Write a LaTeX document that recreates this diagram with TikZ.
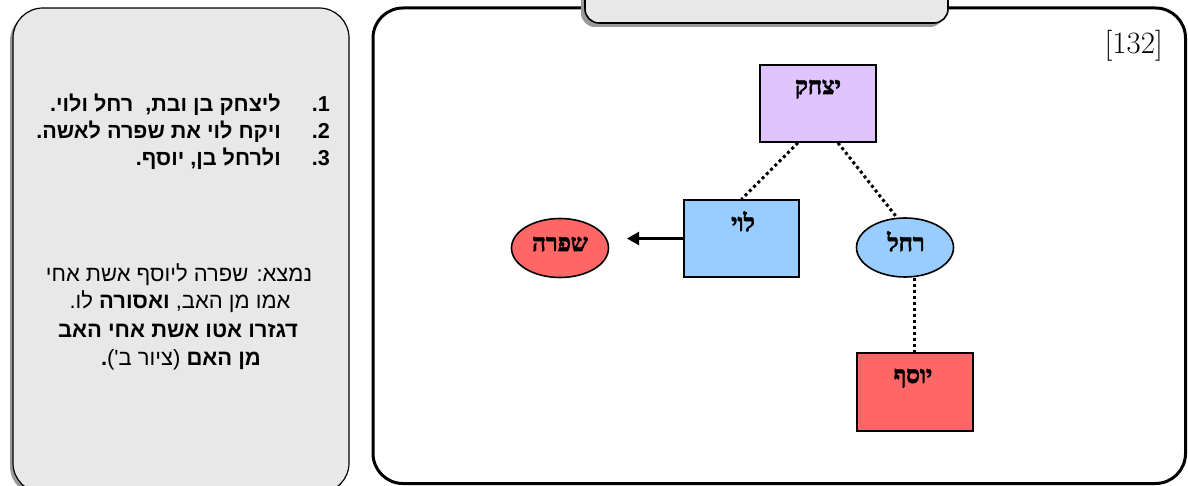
\documentclass[tikz,border=0pt]{standalone}
\usepackage{fontspec}
\usetikzlibrary{shapes.geometric,arrows.meta}
\TeXXeTstate=1
\setmainfont{Liberation Sans}
\newfontfamily\hebsans[Script=Hebrew]{Liberation Sans}
\newfontfamily\hebserif[Script=Hebrew,FakeBold=2.5]{Liberation Serif Bold}
\newfontfamily\lmr{Latin Modern Roman}
\definecolor{panelgray}{HTML}{E8E8E8}
\definecolor{shadowgray}{HTML}{999999}
\definecolor{lav}{HTML}{E0C4FF}
\definecolor{lblue}{HTML}{99CCFF}
\definecolor{lred}{HTML}{FF6666}
\tikzset{
  person/.style={draw=black, line width=1.6pt, rectangle, inner sep=0pt},
  oval/.style={draw=black, line width=1.6pt, ellipse, inner sep=0pt},
  namelbl/.style={anchor=base, inner sep=0pt, font=\hebserif\fontsize{24}{28}\selectfont},
  kin/.style={line width=3pt, dash pattern=on 3pt off 3pt},
  listtxt/.style={anchor=base east, inner sep=0pt, font=\hebsans\bfseries\fontsize{21.6}{26}\selectfont},
  paratxt/.style={anchor=base, inner sep=0pt, font=\hebsans\fontsize{22}{26}\selectfont},
}
\begin{document}
\begin{tikzpicture}[x=1pt,y=-1pt]
\useasboundingbox (0,0) rectangle (1188,486);
\clip (0,0) rectangle (1188,486);
% left panel
\fill[shadowgray, rounded corners=30pt] (10,11) rectangle (346,496);
\draw[fill=panelgray, line width=1.2pt, rounded corners=30pt] (13,8) rectangle (349,493);
% right panel
\draw[fill=white, line width=3pt, rounded corners=30pt] (373,8) rectangle (1185.5,483.5);
% title box
\fill[shadowgray, rounded corners=14pt] (581,-30) rectangle (944,27);
\draw[fill=panelgray, line width=1.6pt, rounded corners=14pt] (585,-30) rectangle (948,23);
% list
\node[listtxt] (n1) at (330,112) {1.};
\node[listtxt] (n2) at (330,139) {2.};
\node[listtxt] (n3) at (330,166) {3.};
\node[listtxt] (l1) at (281,112) {\beginR ליצחק בן ובת,\ \ רחל ולוי.\endR};
\node[listtxt] (l2) at (281,139) {\beginR ויקח לוי את שפרה לאשה.\endR};
\node[listtxt] (l3) at (281,166) {\beginR ולרחל בן, יוסף.\endR};
% paragraph
\node[paratxt] (p1) at (179,281) {\beginR נמצא: שפרה ליוסף אשת אחי\endR};
\node[paratxt] (p2) at (180,308) {\beginR אמו מן האב, \textbf{ואסורה} לו.\endR};
\node[paratxt] (p3) at (178,337) {\beginR\textbf{דגזרו אטו אשת אחי האב}\endR};
\node[paratxt] (p4) at (181,365) {\beginR\textbf{מן האם} (ציור ב')\textbf{.}\endR};
% number
\node[anchor=base east, inner sep=0pt, font=\lmr\fontsize{31}{34}\selectfont] (num) at (1163,54) {[132]};
% people
\node[person, fill=lav, minimum width=116pt, minimum height=77pt] (yitzhak) at (818,103.5) {};
\node[person, fill=lblue, minimum width=115pt, minimum height=77pt] (levi) at (741.5,238.5) {};
\node[person, fill=lred, minimum width=116pt, minimum height=78pt] (yosef) at (915,392) {};
\node[oval, fill=lblue, minimum width=97pt, minimum height=59pt] (rachel) at (905,247.5) {};
\node[oval, fill=lred, minimum width=97pt, minimum height=59pt] (shifra) at (560,248) {};
\node[namelbl] (yitzhak-t) at (818,94) {\beginR יצחק\endR};
\node[namelbl] (levi-t) at (743,231) {\beginR לוי\endR};
\node[namelbl] (yosef-t) at (913,383) {\beginR יוסף\endR};
\node[namelbl] (rachel-t) at (906,251) {\beginR רחל\endR};
\node[namelbl] (shifra-t) at (560,251) {\beginR שפרה\endR};
% connectors
\coordinate (tip) at (627,238.5);
\draw[kin] ([xshift=-20pt]yitzhak.south) -- (levi.north);
\draw[kin] ([xshift=20pt]yitzhak.south) -- (rachel.105);
\draw[kin] ([xshift=-0.5pt]yosef.north |- rachel.south) -- ([xshift=-0.5pt]yosef.north);
\draw[line width=2.2pt, -{Triangle[length=12pt,width=13pt]}] (levi.west) -- (tip);
\end{tikzpicture}
\end{document}
